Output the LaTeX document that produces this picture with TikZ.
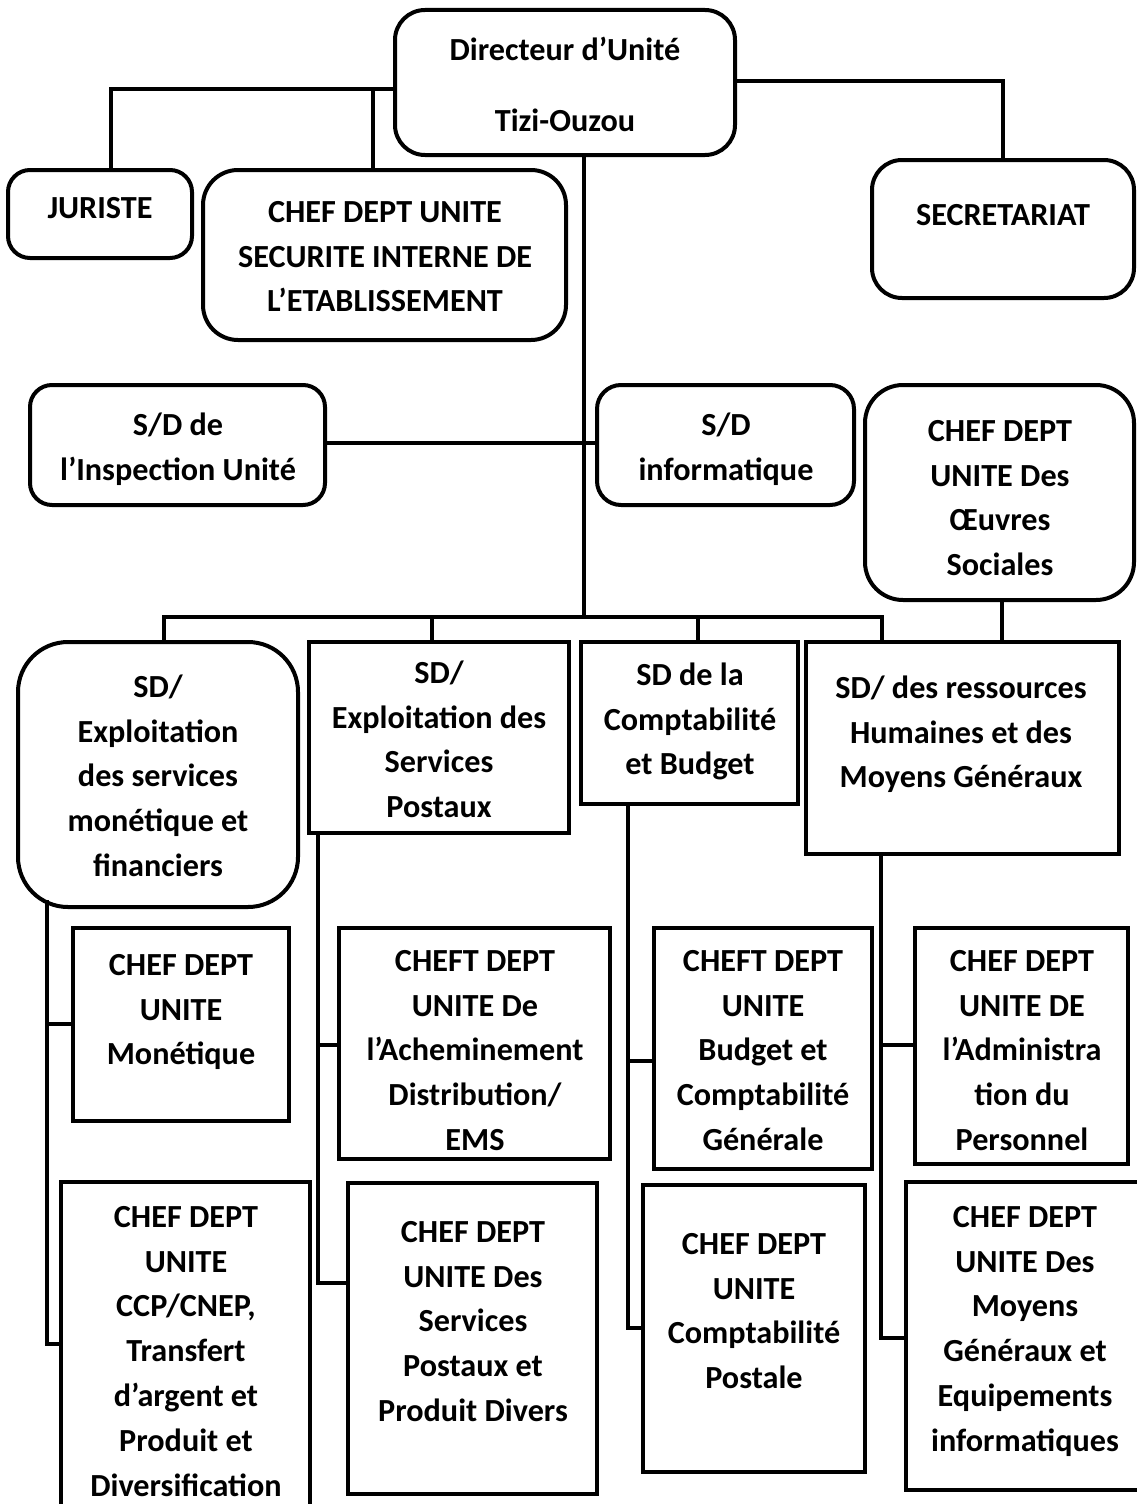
\documentclass[tikz,border=0pt]{standalone}
\usepackage{fontspec}
\setmainfont{Carlito}
\usetikzlibrary{fit}
\begin{document}
\begin{tikzpicture}[x=1pt,y=-1pt,
  box/.style={draw, line width=4pt, inner sep=0pt},
  rbox/.style={box, rounded corners=#1},
  rbox/.default=25pt,
  lbl/.style={align=center, anchor=north, inner sep=0pt, yshift=31.29pt,
    font=\fontsize{32.2}{44.8}\selectfont\bfseries},
  conn/.style={line width=4pt}]
\useasboundingbox (0,0) rectangle (1137,1504);
\clip (0,0) rectangle (1137,1504);

% ---------- boxes ----------
\node[rbox=30pt, fit={(395,10) (735,155)}] (dir) {};
\node[rbox=22pt, fit={(8,170) (192,258)}] (jur) {};
\node[rbox=35pt, fit={(203,170) (566,340)}] (sec) {};
\node[rbox=30pt, fit={(872,160) (1134,298)}] (secr) {};
\node[rbox=22pt, fit={(30,385) (325,505)}] (insp) {};
\node[rbox=24pt, fit={(597,385) (854,505)}] (info) {};
\node[rbox=38pt, fit={(865,385) (1134,600)}] (oeuv) {};
\node[rbox=50pt, fit={(18,642) (298,907)}] (sdmon) {};
\node[box, fit={(309,642) (569,833)}] (sdpost) {};
\node[box, fit={(581,642) (798,804)}] (sdcpt) {};
\node[box, fit={(806,642) (1119,854)}] (sdrh) {};
\node[box, fit={(73,928) (289,1121)}] (mon) {};
\node[box, fit={(61,1182) (310,1530)}] (ccp) {};
\node[box, fit={(339,928) (610,1159)}] (ach) {};
\node[box, fit={(348,1183) (597,1494)}] (serv) {};
\node[box, fit={(654,928) (872,1169)}] (bud) {};
\node[box, fit={(643,1185) (865,1472)}] (post) {};
\node[box, fit={(915,928) (1128,1164)}] (adm) {};
\node[box, fit={(906,1182) (1160,1490)}] (moy) {};

% ---------- texts ----------
\node[lbl] (dirT) at (565,60) {\strut Directeur d’Unité\\[26.5pt]Tizi-Ouzou};
\node[lbl] (jurT) at (100,218) {\strut JURISTE};
\node[lbl] (secT) at (385,222) {\strut CHEF DEPT UNITE\\SECURITE INTERNE DE\\L’ETABLISSEMENT};
\node[lbl] (secrT) at (1003,225) {\strut SECRETARIAT};
\node[lbl] (inspT) at (178,435) {\strut S/D de\\l’Inspection Unité};
\node[lbl] (infoT) at (726,435) {\strut S/D\\informatique};
\node[lbl] (oeuvT) at (1000,441) {\strut CHEF DEPT\\UNITE Des\\Œuvres\\Sociales};
\node[lbl] (sdmonT) at (158,697) {\strut SD/\\Exploitation\\des services\\monétique et\\financiers};
\node[lbl] (sdpostT) at (439,683) {\strut SD/\\Exploitation des\\Services\\Postaux};
\node[lbl] (sdcptT) at (690,685) {\strut SD de la\\Comptabilité\\et Budget};
\node[lbl] (sdrhT) at (961,698) {\strut SD/ des ressources\\Humaines et des\\Moyens Généraux};
\node[lbl] (monT) at (181,975) {\strut CHEF DEPT\\UNITE\\Monétique};
\node[lbl] (ccpT) at (186,1227) {\strut CHEF DEPT\\UNITE\\CCP/CNEP,\\Transfert\\d’argent et\\Produit et\\Diversification};
\node[lbl] (achT) at (475,971) {\strut CHEFT DEPT\\UNITE De\\l’Acheminement\\Distribution/\\EMS};
\node[lbl] (servT) at (473,1242) {\strut CHEF DEPT\\UNITE Des\\Services\\Postaux et\\Produit Divers};
\node[lbl] (budT) at (763,971) {\strut CHEFT DEPT\\UNITE\\Budget et\\Comptabilité\\Générale};
\node[lbl] (postT) at (754,1254) {\strut CHEF DEPT\\UNITE\\Comptabilité\\Postale};
\node[lbl] (admT) at (1022,971) {\strut CHEF DEPT\\UNITE DE\\l’Administra\\tion du\\Personnel};
\node[lbl] (moyT) at (1025,1227) {\strut CHEF DEPT\\UNITE Des\\Moyens\\Généraux et\\Equipements\\informatiques};

% ---------- connectors ----------
\coordinate (jA) at (111,89);
\coordinate (sA) at (373,89);
\coordinate (scA) at (1003,81);
\coordinate (bus) at (584,617);
\coordinate (hI) at (0,443);
\coordinate (bL) at (164,617);
\coordinate (bR) at (882,617);
\coordinate (d2) at (432,617);
\coordinate (d3) at (698,617);
\coordinate (oE) at (1002,0);

\draw[conn] (dir.west |- jA) -| (jur.north -| jA);
\draw[conn] (sA) -- (sec.north -| sA);
\draw[conn] (dir.east |- scA) -| (secr.north -| scA);
\draw[conn] (dir.south -| bus) -- (bus);
\draw[conn] (insp.east |- hI) -- (info.west |- hI);
\draw[conn] (sdmon.north -| bL) -- (bL) -- (bR) -- (sdrh.north -| bR);
\draw[conn] (d2) -- (sdpost.north -| d2);
\draw[conn] (d3) -- (sdcpt.north -| d3);
\draw[conn] (oeuv.south -| oE) -- (sdrh.north -| oE);

% spine 1
\coordinate (m0) at (47,900);
\coordinate (m1) at (47,1024);
\coordinate (m2) at (47,1344);
\draw[conn] (m0) -- (m2) -- (ccp.west |- m2);
\draw[conn] (m1) -- (mon.west |- m1);
% spine 2
\coordinate (p1) at (318,1045);
\coordinate (p2) at (318,1283);
\draw[conn] (sdpost.south -| p1) -- (p2) -- (serv.west |- p2);
\draw[conn] (p1) -- (ach.west |- p1);
% spine 3
\coordinate (c1) at (628,1061);
\coordinate (c2) at (628,1328);
\draw[conn] (sdcpt.south -| c1) -- (c2) -- (post.west |- c2);
\draw[conn] (c1) -- (bud.west |- c1);
% spine 4
\coordinate (r1) at (881,1045);
\coordinate (r2) at (881,1338);
\draw[conn] (sdrh.south -| r1) -- (r2) -- (moy.west |- r2);
\draw[conn] (r1) -- (adm.west |- r1);
\end{tikzpicture}
\end{document}
